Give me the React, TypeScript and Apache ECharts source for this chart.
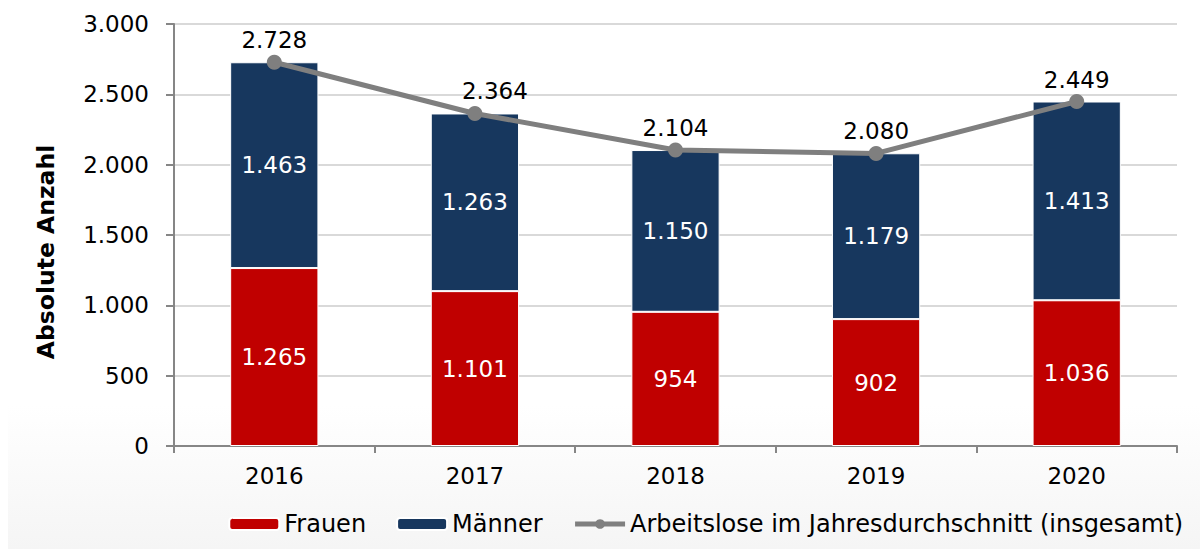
import React, { useEffect, useRef } from "react";
import * as echarts from "echarts";

const years = ["2016", "2017", "2018", "2019", "2020"];
const frauen = [1265, 1101, 954, 902, 1036];
const maenner = [1463, 1263, 1150, 1179, 1413];
const insgesamt = [2728, 2364, 2104, 2080, 2449];
const yTicks = [0, 500, 1000, 1500, 2000, 2500, 3000];

const fmt = (v: number) => {
  const s = Math.round(v).toString();
  return s.replace(/\B(?=(\d{3})+(?!\d))/g, ".");
};

const FONT = "DejaVu Sans";
const FS = 23;
const LINE_NAME = "Arbeitslose im Jahresdurchschnitt (insgesamt)";

export default function App() {
  const ref = useRef<HTMLDivElement>(null);
  useEffect(() => {
    if (!ref.current) return;
    const chart = echarts.init(ref.current, undefined, { renderer: "svg" });
    chart.setOption({
      animation: false,
      textStyle: { fontFamily: FONT },
      graphic: [
        {
          type: "rect",
          z: -10,
          silent: true,
          shape: { x: 8, y: 405, width: 1192, height: 144 },
          style: {
            fill: new echarts.graphic.LinearGradient(0, 0, 0, 1, [
              { offset: 0, color: "#ffffff" },
              { offset: 1, color: "#f5f5f5" },
            ]),
          },
        },
      ],
      grid: { left: 174, right: 23, top: 24, bottom: 103 },
      legend: {
        right: 12,
        bottom: 8,
        itemWidth: 50,
        itemHeight: 12,
        itemGap: 30,
        textStyle: { fontFamily: FONT, fontSize: 24, color: "#000" },
        data: [
          { name: "Frauen" },
          { name: "Männer" },
          { name: LINE_NAME, lineStyle: { width: 5, color: "#7f7f7f" }, itemStyle: { color: "#7f7f7f" } },
        ],
      },
      xAxis: {
        type: "category",
        data: years,
        axisLine: { lineStyle: { color: "#868686", width: 2 } },
        axisTick: { show: true, length: 7, lineStyle: { color: "#868686", width: 2 } },
        axisLabel: { fontFamily: FONT, fontSize: FS, color: "#000", margin: 18 },
      },
      yAxis: {
        type: "value",
        min: yTicks[0],
        max: yTicks[yTicks.length - 1],
        interval: 500,
        name: "Absolute Anzahl",
        nameLocation: "middle",
        nameGap: 116,
        nameRotate: 90,
        nameTextStyle: {
          fontFamily: FONT,
          fontSize: 23.5,
          fontWeight: "bold",
          color: "#000",
          padding: [0, 34, 0, 0],
        },
        axisLine: { show: true, lineStyle: { color: "#868686", width: 2 } },
        axisTick: { show: true, length: 8, lineStyle: { color: "#868686", width: 2 } },
        axisLabel: { fontFamily: FONT, fontSize: FS, color: "#000", margin: 25, formatter: (v: number) => fmt(v) },
        splitLine: { lineStyle: { color: "#d9d9d9", width: 2 } },
      },
      series: [
        {
          name: "Frauen",
          type: "bar",
          stack: "a",
          data: frauen,
          barWidth: "44%",
          itemStyle: { color: "#c00000", borderColor: "#ffffff", borderWidth: 1 },
          label: {
            show: true,
            position: "inside",
            color: "#fff",
            fontFamily: FONT,
            fontSize: FS,
            formatter: (p: any) => fmt(p.value),
          },
        },
        {
          name: "Männer",
          type: "bar",
          stack: "a",
          data: maenner,
          barWidth: "44%",
          itemStyle: { color: "#17375e", borderColor: "#ffffff", borderWidth: 1 },
          label: {
            show: true,
            position: "inside",
            color: "#fff",
            fontFamily: FONT,
            fontSize: FS,
            formatter: (p: any) => fmt(p.value),
          },
        },
        {
          name: LINE_NAME,
          type: "line",
          data: insgesamt.map((v, i) => (i === 1 ? { value: v, label: { offset: [20, 0] } } : v)),
          symbol: "circle",
          symbolSize: 15,
          lineStyle: { color: "#7f7f7f", width: 5 },
          itemStyle: { color: "#7f7f7f" },
          z: 5,
          label: {
            show: true,
            position: "top",
            distance: 3,
            color: "#000",
            fontFamily: FONT,
            fontSize: FS,
            formatter: (p: any) => fmt(p.value),
          },
        },
      ],
    });
    return () => chart.dispose();
  }, []);
  return (
    <div
      ref={ref}
      style={{ position: "absolute", left: 0, top: 0, width: 1200, height: 549 }}
    />
  );
}
